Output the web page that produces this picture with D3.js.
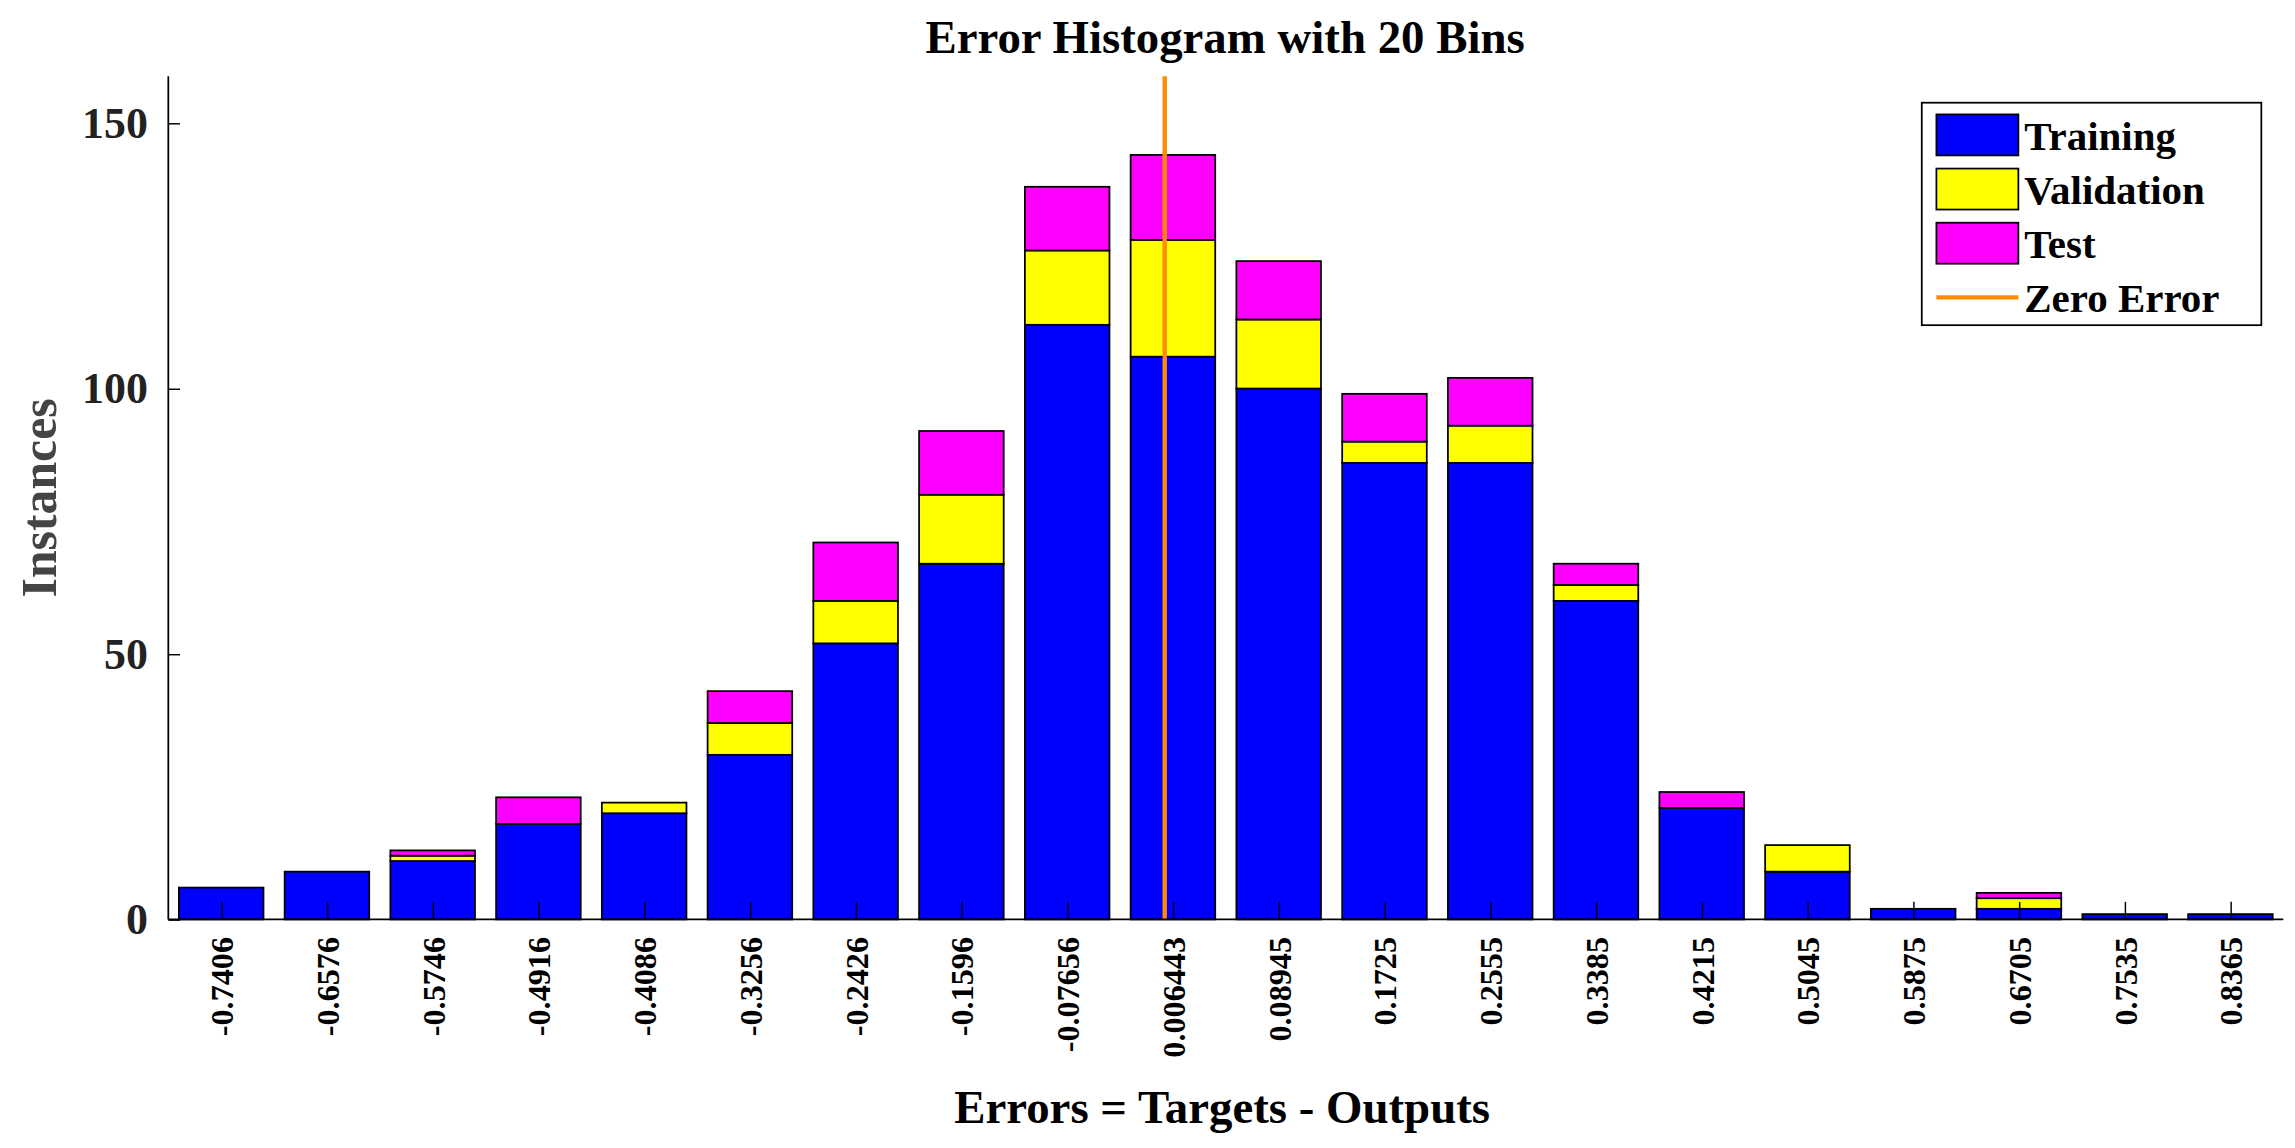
<!DOCTYPE html>
<html lang="en">
<head>
<meta charset="UTF-8">
<title>Error Histogram with 20 Bins</title>
<script src="https://d3js.org/d3.v7.min.js"></script>
<style>
body { margin: 0; background: #fff; }
text { font-family: "Liberation Serif", "Times New Roman", serif; font-weight: bold; }
</style>
</head>
<body>
<div id="chart"></div>
<script>
// bin centres (tick labels) and counts per data split
const binLabels = ["-0.7406","-0.6576","-0.5746","-0.4916","-0.4086","-0.3256","-0.2426","-0.1596","-0.07656","0.006443",
                   "0.08945","0.1725","0.2555","0.3385","0.4215","0.5045","0.5875","0.6705","0.7535","0.8365"];
const training   = [6, 9, 11, 18, 20, 31, 52, 67, 112, 106, 100, 86, 86, 60, 21, 9, 2, 2, 1, 1];
const validation = [0, 0, 1, 0, 2, 6, 8, 13, 14, 22, 13, 4, 7, 3, 0, 5, 0, 2, 0, 0];
const test       = [0, 0, 1, 5, 0, 6, 11, 12, 12, 16, 11, 9, 9, 4, 3, 0, 0, 1, 0, 0];
const yTicks = [0, 50, 100, 150];
const seriesNames = ["Training", "Validation", "Test"];
const colors = ["#0000ff", "#ffff00", "#ff00ff"];

// drawn in a 1568x784 coordinate space, scaled up to the window
const svg = d3.select('#chart').append('svg')
    .attr('width', 2295).attr('height', 1148)
    .attr('viewBox', '0 0 1568 784');

const mLeft = 115, mRight = 1560, mTop = 52, mBottom = 628;
const centres = binLabels.map(Number);
const step = (centres[19] - centres[0]) / 19;
const x = d3.scaleLinear().domain([centres[0] - step / 2, centres[19] + step / 2]).range([mLeft, mRight]);
const y = d3.scaleLinear().domain([0, 158.8]).range([mBottom, mTop]);
const bw = (x(step) - x(0)) * 0.8;

const rows = binLabels.map((l, i) => ({ c: centres[i], Training: training[i], Validation: validation[i], Test: test[i] }));
const stacked = d3.stack().keys(seriesNames)(rows);

stacked.forEach((s, k) => {
  svg.append('g').selectAll('rect').data(s.filter(d => d[1] > d[0])).join('rect')
    .attr('x', d => x(d.data.c) - bw / 2)
    .attr('width', bw)
    .attr('y', d => y(d[1]))
    .attr('height', d => y(d[0]) - y(d[1]))
    .attr('fill', colors[k]).attr('stroke', '#000').attr('stroke-width', 1.2);
});

// zero error line
svg.append('line').attr('x1', x(0)).attr('x2', x(0)).attr('y1', mTop).attr('y2', mBottom)
  .attr('stroke', '#ff8c00').attr('stroke-width', 3);

// y axis
const ya = svg.append('g').attr('transform', `translate(${mLeft},0)`)
  .call(d3.axisLeft(y).tickValues(yTicks).tickSize(-8).tickPadding(14));
ya.select('.domain').attr('d', `M0,${mTop}V${mBottom}`).attr('stroke-width', 1.2);
ya.selectAll('text').attr('font-size', 30).attr('fill', '#222').attr('font-family', '"Liberation Serif", serif');

// x axis
const xa = svg.append('g').attr('transform', `translate(0,${mBottom})`)
  .call(d3.axisBottom(x).tickValues(centres).tickFormat((d, i) => binLabels[i]).tickSize(-12).tickPadding(0));
xa.select('.domain').attr('d', `M${mLeft},0H${mRight}`).attr('stroke-width', 1.2);
xa.selectAll('text')
  .attr('font-size', 22).attr('fill', '#000').attr('font-family', '"Liberation Serif", serif')
  .attr('text-anchor', 'end').attr('dy', '0.35em').attr('y', 0)
  .attr('transform', 'translate(0,12) rotate(-90)');

// labels
svg.append('text').attr('x', 837).attr('y', 36).attr('text-anchor', 'middle').attr('font-size', 32).text('Error Histogram with 20 Bins');
svg.append('text').attr('x', 835).attr('y', 767).attr('text-anchor', 'middle').attr('font-size', 32).text('Errors = Targets - Outputs');
svg.append('text').attr('transform', 'translate(38,340) rotate(-90)').attr('text-anchor', 'middle')
  .attr('font-size', 34).attr('fill', '#444').text('Instances');

// legend
const lg = svg.append('g').attr('transform', 'translate(1313,70)');
lg.append('rect').attr('width', 232).attr('height', 152).attr('fill', '#fff').attr('stroke', '#000').attr('stroke-width', 1.2);
seriesNames.forEach((n, i) => {
  lg.append('rect').attr('x', 10).attr('y', 8 + i * 37).attr('width', 56).attr('height', 28)
    .attr('fill', colors[i]).attr('stroke', '#000').attr('stroke-width', 1.2);
  lg.append('text').attr('x', 70).attr('y', 32 + i * 37).attr('font-size', 28).text(n);
});
lg.append('line').attr('x1', 10).attr('x2', 66).attr('y1', 133).attr('y2', 133).attr('stroke', '#ff8c00').attr('stroke-width', 3);
lg.append('text').attr('x', 70).attr('y', 143).attr('font-size', 28).text('Zero Error');
</script>
</body>
</html>
